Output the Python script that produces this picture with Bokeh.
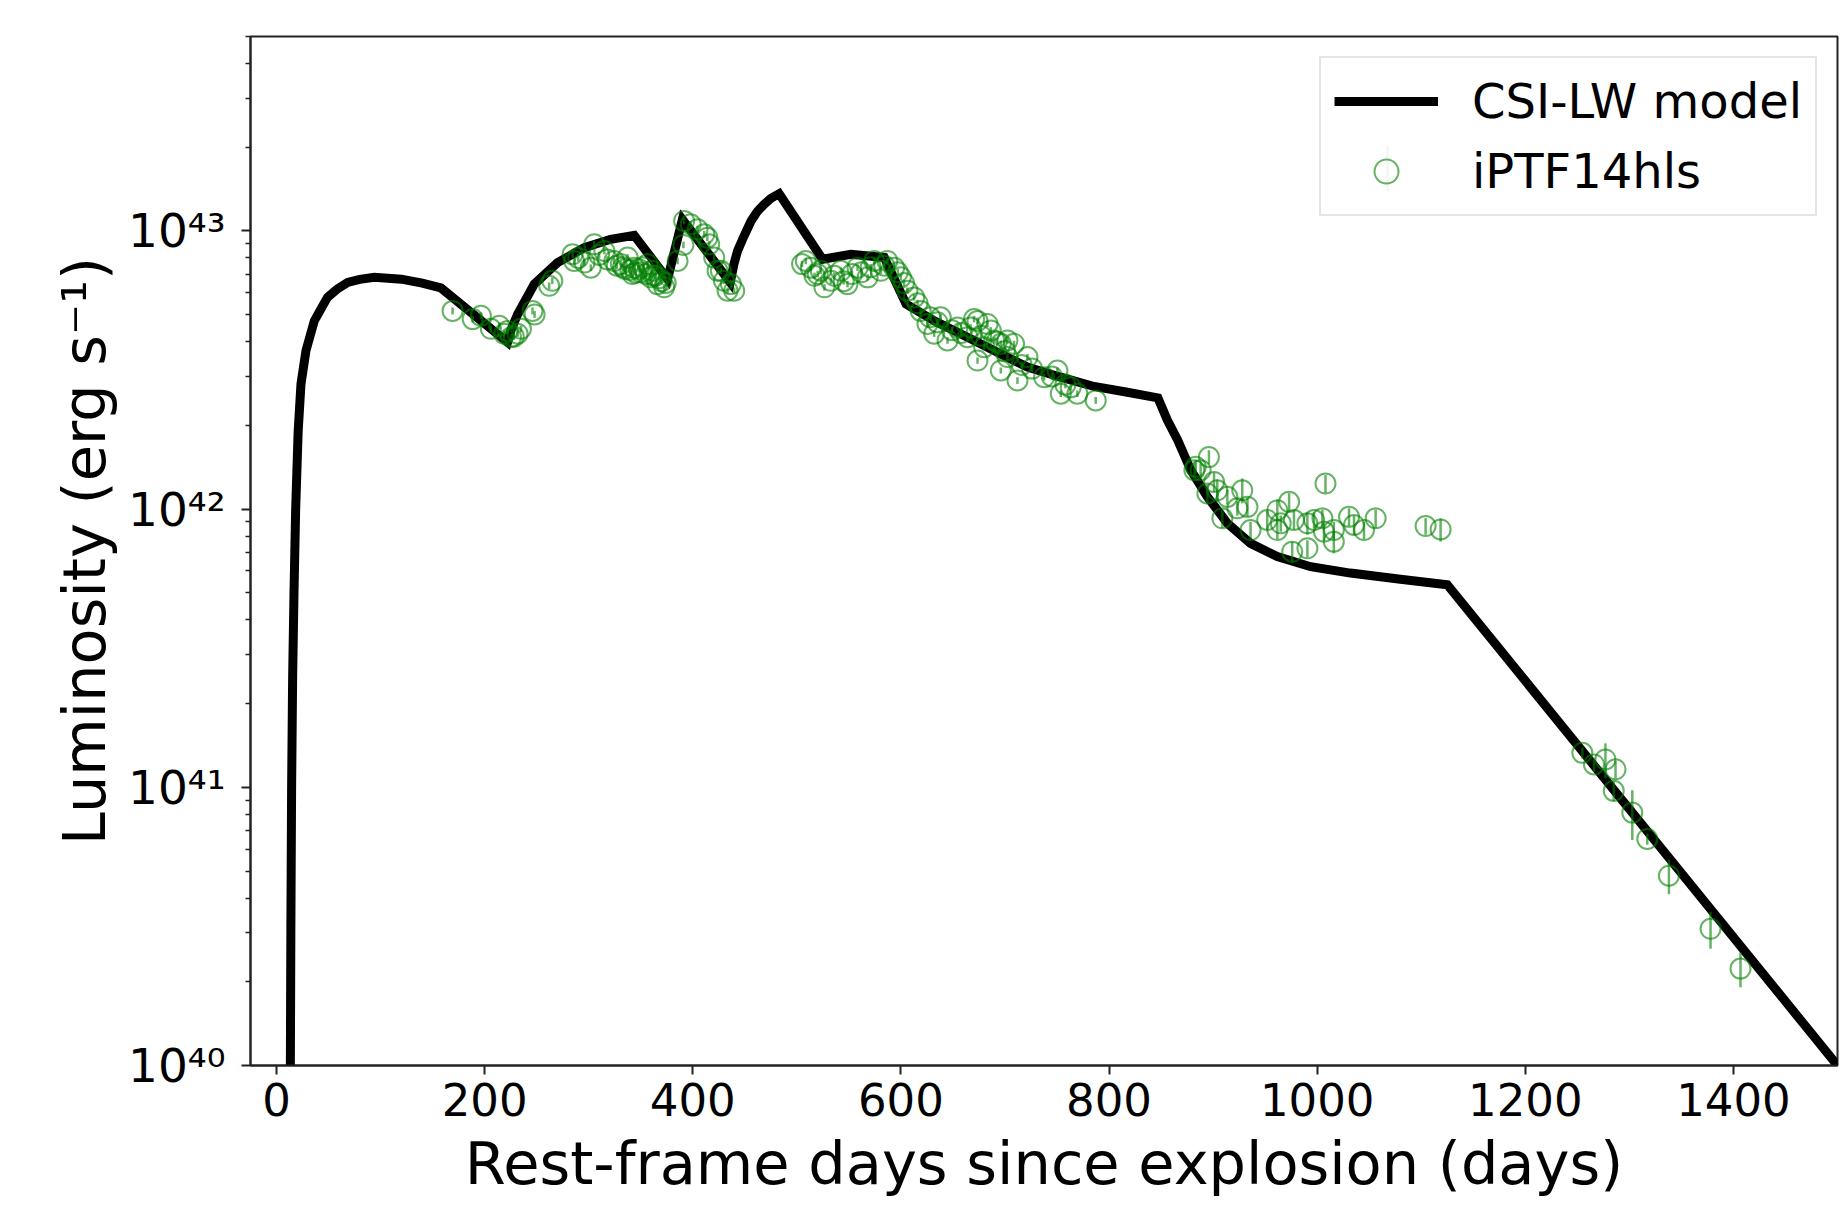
import numpy as np
from bokeh.plotting import figure
from bokeh.models import (Range1d, FixedTicker, CustomJSTickFormatter, Legend,
                          LegendItem, ColumnDataSource, BoxAnnotation)
from bokeh.embed import file_html
from bokeh.resources import INLINE

# ---------------- data (luminosity in units of 1e42 erg/s) ----------------
model_day = [12.5, 13.3, 13.8, 14.5, 15.5, 16.8, 18.4, 20.8, 23.5, 28.3, 36.3, 43.0, 49.0,
             58.0, 68.4, 80.0, 94.0, 120.0, 140.0, 158.0, 222.0, 226.0, 231.7, 247.7, 270.0, 295.7,
             321.0, 343.7, 375.8, 390.0, 436.0, 439.5, 443.0, 449.0, 456.0, 462.0, 468.6, 475.0,
             483.0, 524.7,
             552.0, 584.0, 605.0, 632.0, 664.0, 696.0, 721.6, 753.6, 785.6, 817.6,
             847.0, 856.0, 866.0, 878.6, 894.6, 913.8, 936.0, 961.7, 993.7, 1032.0,
             1080.0, 1125.0, 1500.0]
model_lum = [0.00316, 0.01, 0.0316, 0.1, 0.251, 0.501, 1.0, 1.905, 2.818, 3.715, 4.75, 5.27, 5.77,
             6.17, 6.53, 6.70, 6.81, 6.71, 6.49, 6.24, 3.98, 4.47, 5.02, 6.44, 7.69, 8.71,
             9.33, 9.64, 6.71, 11.0, 6.53, 7.59, 8.47, 9.55, 10.86, 11.75, 12.47, 13.09,
             13.61, 7.91,
             8.24, 8.02, 5.46, 4.75, 4.15, 3.61, 3.24, 2.98, 2.76, 2.63,
             2.51, 2.09, 1.77, 1.38, 1.107, 0.889, 0.753, 0.675, 0.621, 0.589,
             0.560, 0.535, 0.01]

obs_day = [169.2, 188.5, 196.4, 206.0, 214.0, 218.8, 222.0, 225.3, 228.0, 231.7, 234.9,
           246.0, 248.0, 262.0, 265.0, 284.5, 286.0, 302.0, 305.3, 315.0, 324.5,
           331.0, 333.0, 337.4, 340.0, 343.7, 345.0, 350.0, 352.0, 356.6, 359.8,
           362.0, 366.0, 368.0, 372.5, 385.4, 391.0, 391.7, 398.0, 404.6, 411.0,
           414.0, 415.8, 420.6, 423.8, 427.0, 430.0, 433.4, 436.6, 439.8,
           290.0, 296.0, 310.0, 318.0, 327.0, 335.0, 342.0, 348.0, 355.0, 361.0,
           364.0, 370.0, 374.0,
           508.6, 513.4, 520.0, 526.5, 532.7, 542.3, 548.7, 558.3, 568.0, 574.3,
           580.7, 587.0, 593.5, 600.0, 606.3, 612.7, 619.0, 625.5, 632.0, 638.3,
           644.8, 654.4, 664.0, 673.6, 680.0, 686.4, 696.0, 702.4, 708.7, 670.3,
           683.2, 673.6, 689.6, 702.4, 696.0, 712.0, 721.6, 737.6, 750.4, 753.6,
           763.2, 769.6, 787.2,
           505.0, 517.0, 523.0, 536.0, 545.0, 553.0, 562.0, 571.0, 584.0, 597.0,
           603.0, 616.0, 628.0, 635.0, 649.0, 658.0, 667.0, 677.0, 692.0, 700.0,
           716.0, 726.0, 745.0, 758.0,
           882.0, 896.0, 883.3, 888.0, 900.9, 894.5, 904.0, 913.7, 928.0, 908.9,
           923.3, 933.0, 936.0, 952.0, 961.7, 965.0, 973.0, 961.7, 977.7, 976.0,
           990.6, 990.6, 997.0, 1005.0, 1008.0, 1006.5, 1016.0, 1016.0, 1030.6, 1035.4,
           1045.0, 1056.2, 1104.2, 1118.6,
           1254.8, 1266.0, 1277.0, 1286.7, 1285.0, 1302.8, 1317.2, 1338.0, 1378.0, 1406.8]
obs_lum = [5.16, 4.82, 4.96, 4.45, 4.56, 4.27, 4.37, 4.15, 4.17, 4.27, 4.45,
           5.16, 5.01, 6.35, 6.62, 8.24, 7.80, 7.38, 8.95, 8.47, 7.80,
           7.60, 7.41, 8.02, 7.24, 7.38, 7.08, 7.10, 7.41, 7.60, 6.81,
           6.92, 6.44, 6.76, 6.27, 7.80, 8.91, 10.86, 10.57, 10.14, 9.73,
           9.46, 8.95, 8.02, 7.19, 7.19, 6.62, 6.10, 6.44, 6.10,
           8.00, 7.70, 8.20, 7.90, 7.50, 7.30, 7.00, 7.30, 7.00, 7.20,
           6.90, 6.60, 6.50,
           7.80, 7.38, 7.00, 6.27, 6.62, 7.19, 6.44, 7.38, 6.81, 7.80,
           7.19, 7.80, 7.38, 6.81, 6.10, 5.77, 5.16, 4.63, 4.27, 4.89,
           4.04, 4.50, 4.15, 4.75, 3.82, 4.39, 3.93, 3.52, 3.93, 4.82,
           4.63, 3.42, 4.04, 4.04, 3.15, 2.90, 3.52, 2.98, 3.15, 2.60,
           2.74, 2.60, 2.46,
           7.60, 6.90, 7.20, 6.90, 6.60, 7.00, 7.10, 7.40, 7.50, 7.10,
           6.50, 5.50, 4.90, 4.70, 4.40, 4.30, 4.50, 4.20, 4.00, 3.70,
           3.30, 3.20, 3.00, 2.80,
           1.380, 1.538, 1.419, 1.380, 1.253, 1.138, 1.169, 1.107, 1.169, 0.927,
           1.007, 1.019, 0.841, 0.914, 0.991, 0.889, 1.062, 0.841, 0.914, 0.703,
           0.723, 0.889, 0.914, 0.927, 1.236, 0.830, 0.841, 0.764, 0.938, 0.877,
           0.841, 0.927, 0.869, 0.845,
           0.1330, 0.1208, 0.1259, 0.1161, 0.0971, 0.0811, 0.0652, 0.0481, 0.0310, 0.0223]
obs_err = [0.15, 0.14, 0.14, 0.12, 0.12, 0.11, 0.12, 0.11, 0.11, 0.11, 0.12,
           0.15, 0.14, 0.18, 0.18, 0.22, 0.21, 0.20, 0.25, 0.23, 0.21,
           0.20, 0.20, 0.22, 0.20, 0.20, 0.19, 0.19, 0.20, 0.20, 0.18,
           0.18, 0.17, 0.18, 0.17, 0.21, 0.24, 0.29, 0.28, 0.27, 0.26,
           0.25, 0.24, 0.22, 0.19, 0.19, 0.18, 0.16, 0.17, 0.16,
           0.22, 0.21, 0.22, 0.21, 0.20, 0.20, 0.19, 0.20, 0.19, 0.19,
           0.18, 0.18, 0.17,
           0.21, 0.20, 0.19, 0.17, 0.18, 0.19, 0.17, 0.20, 0.18, 0.21,
           0.19, 0.21, 0.20, 0.18, 0.16, 0.15, 0.14, 0.12, 0.11, 0.13,
           0.11, 0.12, 0.11, 0.13, 0.10, 0.12, 0.10, 0.09, 0.10, 0.13,
           0.12, 0.09, 0.11, 0.11, 0.08, 0.08, 0.09, 0.08, 0.08, 0.07,
           0.07, 0.07, 0.07,
           0.20, 0.18, 0.19, 0.18, 0.18, 0.19, 0.19, 0.20, 0.20, 0.19,
           0.17, 0.15, 0.13, 0.13, 0.12, 0.12, 0.12, 0.11, 0.11, 0.10,
           0.09, 0.09, 0.08, 0.08,
           0.08, 0.09, 0.08, 0.08, 0.10, 0.09, 0.11, 0.07, 0.12, 0.07,
           0.06, 0.08, 0.06, 0.07, 0.09, 0.06, 0.08, 0.06, 0.07, 0.06,
           0.05, 0.08, 0.06, 0.07, 0.09, 0.06, 0.06, 0.07, 0.07, 0.07,
           0.06, 0.07, 0.06, 0.08,
           0.0060, 0.0070, 0.0180, 0.0085, 0.0080, 0.0165, 0.0030, 0.0068, 0.0047, 0.0032]

x_ticks = [0, 200, 400, 600, 800, 1000, 1200, 1400]
y_ticks = [1e40, 1e41, 1e42, 1e43]
y_minor = [k * 10.0 ** e for e in range(40, 44) for k in range(2, 10)]

UNIT = 1e42
GREEN = "green"
FONT = "DejaVu Sans"

m_src = ColumnDataSource(dict(day=model_day, lum=[v * UNIT for v in model_lum]))
o_src = ColumnDataSource(dict(
    day=obs_day,
    lum=[v * UNIT for v in obs_lum],
    lo=[(v - e) * UNIT for v, e in zip(obs_lum, obs_err)],
    hi=[(v + e) * UNIT for v, e in zip(obs_lum, obs_err)],
))

p = figure(width=1841, height=1200, y_axis_type="log",
           x_range=Range1d(-25, 1500), y_range=Range1d(1e40, 5e43),
           output_backend="svg", toolbar_location=None,
           min_border_left=250, min_border_right=4,
           min_border_top=36, min_border_bottom=133)
p.background_fill_color = "white"
p.border_fill_color = "white"
p.grid.visible = False
p.outline_line_color = "#222222"
p.outline_line_width = 2
p.outline_line_alpha = 1

line_r = p.line("day", "lum", source=m_src, line_color="black", line_width=9,
                line_join="miter")
bar_r = p.segment(x0="day", y0="lo", x1="day", y1="hi", source=o_src,
                  line_color=GREEN, line_alpha=0.6, line_width=2.5)
circ_r = p.scatter("day", "lum", source=o_src, marker="circle", size=20,
                   fill_color=None, line_color=GREEN, line_alpha=0.6, line_width=2)

xa = p.xaxis[0]
ya = p.yaxis[0]
xa.ticker = FixedTicker(ticks=x_ticks, minor_ticks=[])
ya.ticker = FixedTicker(ticks=y_ticks, minor_ticks=y_minor)
ya.formatter = CustomJSTickFormatter(code="""
const sup = {"0":"\u2070","1":"\u00b9","2":"\u00b2","3":"\u00b3","4":"\u2074",
             "5":"\u2075","6":"\u2076","7":"\u2077","8":"\u2078","9":"\u2079","-":"\u207b"};
const e = Math.round(Math.log10(tick));
return "10" + String(e).split("").map(c => sup[c]).join("");
""")
xa.axis_label = "Rest-frame days since explosion (days)"
ya.axis_label = "Luminosity (erg s\u207b\u00b9)"

for ax in (xa, ya):
    ax.axis_line_color = "#222222"
    ax.axis_line_width = 2
    ax.major_tick_line_color = "#222222"
    ax.minor_tick_line_color = "#222222"
    ax.major_tick_line_width = 2
    ax.minor_tick_line_width = 1.5
    ax.major_tick_in = 0
    ax.major_tick_out = 9
    ax.minor_tick_in = 0
    ax.minor_tick_out = 5
    ax.major_label_text_font = FONT
    ax.major_label_text_font_size = "45px"
    ax.major_label_text_color = "black"
    ax.axis_label_text_font = FONT
    ax.axis_label_text_font_size = "59px"
    ax.axis_label_text_font_style = "normal"
    ax.axis_label_text_color = "black"
ya.major_label_text_font_size = "47px"
xa.major_label_standoff = 8
ya.major_label_standoff = 16
xa.axis_label_standoff = 10
ya.axis_label_standoff = 6

legend = Legend(items=[
    LegendItem(label="CSI-LW model", renderers=[line_r]),
    LegendItem(label="iPTF14hls", renderers=[circ_r]),
], location="top_right")
legend.margin = 20
legend.padding = 13
legend.spacing = 10
legend.glyph_width = 104
legend.glyph_height = 60
legend.label_height = 60
legend.label_standoff = 34
legend.label_text_font = FONT
legend.label_text_font_size = "48px"
legend.label_text_color = "black"
legend.border_line_color = "#cccccc"
legend.border_line_width = 2
legend.background_fill_color = "white"
legend.background_fill_alpha = 0.9
p.add_layout(legend, "center")

# vertical error-bar stroke of the legend key (screen units relative to the frame,
# a layout decoration placed on the legend's marker)
legend_bar = BoxAnnotation(left=1135.8, right=1138.3, top=920, bottom=873,
                           left_units="screen", right_units="screen",
                           top_units="screen", bottom_units="screen",
                           fill_color=GREEN, fill_alpha=0.6, line_color=None,
                           editable=False)
p.add_layout(legend_bar)

open("out.html", "w").write(file_html(p, INLINE))
